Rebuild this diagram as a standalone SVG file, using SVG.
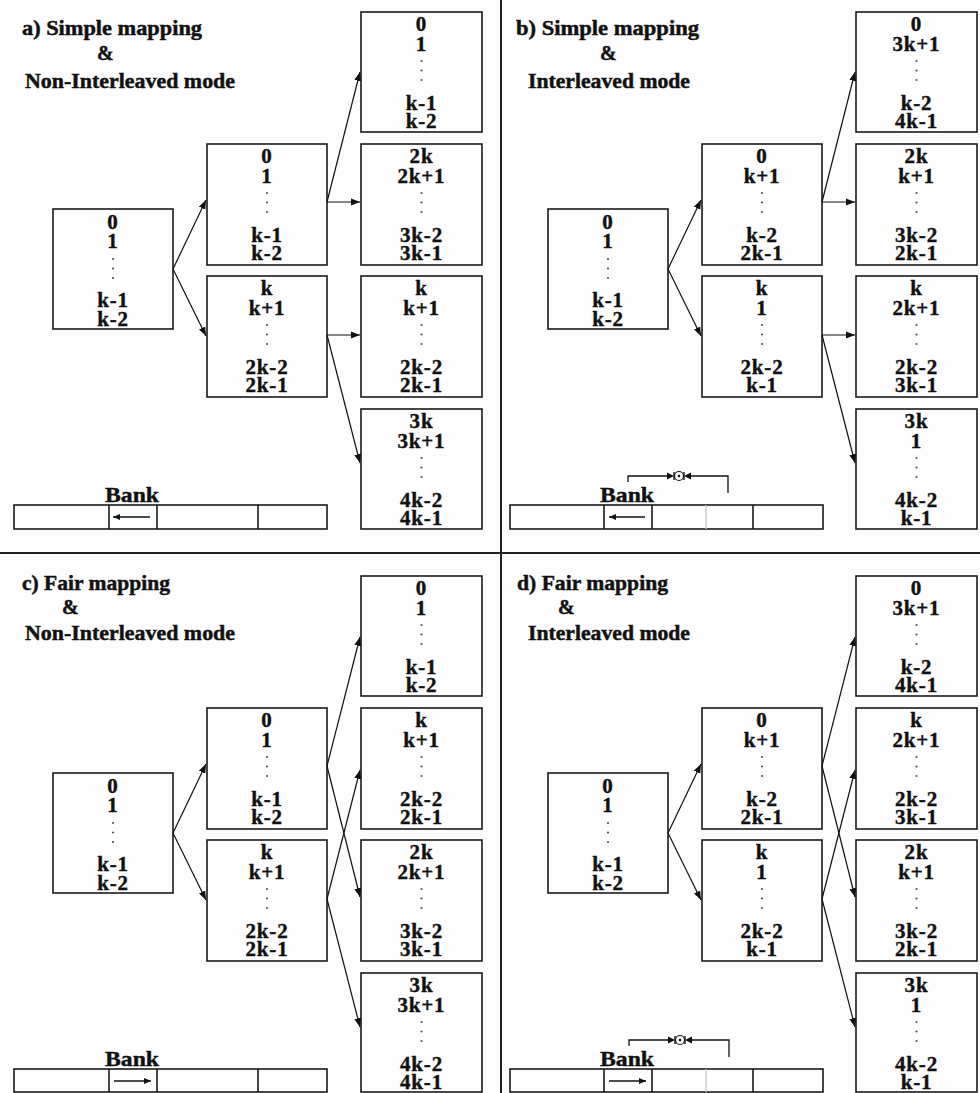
<svg xmlns="http://www.w3.org/2000/svg" xmlns:xlink="http://www.w3.org/1999/xlink" width="980" height="1093" viewBox="0 0 980 1093">
<defs>
<style>
.bg{fill:#fdfdfd}
.sep{stroke:#222;stroke-width:2;fill:none}
.box{fill:none;stroke:#1a1a1a;stroke-width:1.6}
.t{font-family:"Liberation Serif",serif;font-weight:bold;font-size:21px;text-anchor:middle;fill:#111;stroke:#111;stroke-width:0.4;letter-spacing:0.8px}
.ti{font-family:"Liberation Serif",serif;font-weight:bold;font-size:20px;fill:#111;stroke:#111;stroke-width:0.45}
.bank{font-family:"Liberation Serif",serif;font-weight:bold;font-size:21px;fill:#111;stroke:#111;stroke-width:0.4}
.cn{stroke:#111;stroke-width:1.2;fill:none;marker-end:url(#ah)}
.bar{fill:none;stroke:#1a1a1a;stroke-width:1.6}
.div{stroke:#1a1a1a;stroke-width:1.6}
.gdiv{stroke:#c8c8c8;stroke-width:1.4}
.ba{stroke:#111;stroke-width:1.3;fill:none;marker-end:url(#sah)}
.br{stroke:#111;stroke-width:1.3;fill:none}
.vd{fill:#555}
</style>
<marker id="ah" markerUnits="userSpaceOnUse" markerWidth="10" markerHeight="8" refX="9" refY="4" orient="auto">
<path d="M0,0.5 L9,4 L0,7.5 z" fill="#111"/>
</marker>
<marker id="sah" markerUnits="userSpaceOnUse" markerWidth="8" markerHeight="6" refX="7" refY="3" orient="auto">
<path d="M0,0 L7,3 L0,6 z" fill="#111"/>
</marker>
<g id="vdots">
<circle class="vd" cx="0" cy="0" r="1.1"/>
<circle class="vd" cx="0" cy="9.5" r="1.1"/>
<circle class="vd" cx="0" cy="19" r="1.1"/>
</g>
<g id="bracket">
<polyline class="br" points="0,6 0,0 39,0"/>
<path d="M39,-3.5 L46,0 L39,3.5 z" fill="#111"/>
<line class="br" x1="46" y1="-4" x2="46" y2="4"/>
<circle cx="51" cy="0" r="4.5" fill="#fdfdfd" stroke="#111" stroke-width="1.2"/>
<circle cx="51" cy="0" r="1.3" fill="#111"/>
<polyline class="br" points="100,17 100,0 63,0"/>
<path d="M63,-3.5 L56,0 L63,3.5 z" fill="#111"/>
<line class="br" x1="56" y1="-4" x2="56" y2="4"/>
</g>
</defs>
<rect class="bg" x="0" y="0" width="980" height="1093"/>
<g id="separators">
<line class="sep" x1="501" y1="0" x2="501" y2="1093"/>
<line class="sep" x1="0" y1="553" x2="980" y2="553"/>
</g>

<!-- Panel a -->
<g id="panel-a">
<g id="a-title">
<text class="ti" x="22" y="35" textLength="180" lengthAdjust="spacingAndGlyphs">a) Simple mapping</text>
<text class="ti" x="97" y="60">&amp;</text>
<text class="ti" x="25" y="88" textLength="210" lengthAdjust="spacingAndGlyphs">Non-Interleaved mode</text>
</g>
<g id="a-left">
<rect class="box" x="53" y="209" width="120" height="120"/>
<text class="t" x="113" y="229">0</text><text class="t" x="113" y="248">1</text>
<use xlink:href="#vdots" x="113" y="259"/>
<text class="t" x="113" y="307">k-1</text><text class="t" x="113" y="326">k-2</text>
</g>
<g id="a-mid1">
<rect class="box" x="207" y="144" width="120" height="121"/>
<text class="t" x="267" y="163">0</text><text class="t" x="267" y="183">1</text>
<use xlink:href="#vdots" x="267" y="193"/>
<text class="t" x="267" y="242">k-1</text><text class="t" x="267" y="260">k-2</text>
</g>
<g id="a-mid2">
<rect class="box" x="207" y="276" width="120" height="121"/>
<text class="t" x="267" y="295">k</text><text class="t" x="267" y="315">k+1</text>
<use xlink:href="#vdots" x="267" y="325"/>
<text class="t" x="267" y="374">2k-2</text><text class="t" x="267" y="392">2k-1</text>
</g>
<g id="a-r1">
<rect class="box" x="361" y="12" width="121" height="120"/>
<text class="t" x="421.5" y="31">0</text><text class="t" x="421.5" y="51">1</text>
<use xlink:href="#vdots" x="421.5" y="61"/>
<text class="t" x="421.5" y="110">k-1</text><text class="t" x="421.5" y="128">k-2</text>
</g>
<g id="a-r2">
<rect class="box" x="361" y="144" width="121" height="121"/>
<text class="t" x="421.5" y="163">2k</text><text class="t" x="421.5" y="183">2k+1</text>
<use xlink:href="#vdots" x="421.5" y="193"/>
<text class="t" x="421.5" y="242">3k-2</text><text class="t" x="421.5" y="260">3k-1</text>
</g>
<g id="a-r3">
<rect class="box" x="361" y="276" width="121" height="121"/>
<text class="t" x="421.5" y="295">k</text><text class="t" x="421.5" y="315">k+1</text>
<use xlink:href="#vdots" x="421.5" y="325"/>
<text class="t" x="421.5" y="374">2k-2</text><text class="t" x="421.5" y="392">2k-1</text>
</g>
<g id="a-r4">
<rect class="box" x="361" y="409" width="121" height="120"/>
<text class="t" x="421.5" y="428">3k</text><text class="t" x="421.5" y="448">3k+1</text>
<use xlink:href="#vdots" x="421.5" y="458"/>
<text class="t" x="421.5" y="507">4k-2</text><text class="t" x="421.5" y="525">4k-1</text>
</g>
<g id="a-bank">
<text class="bank" x="105" y="502" textLength="54" lengthAdjust="spacingAndGlyphs">Bank</text>
<rect class="bar" x="14" y="505" width="313" height="24"/>
<line class="div" x1="109" y1="505" x2="109" y2="529"/>
<line class="div" x1="157" y1="505" x2="157" y2="529"/>
<line class="div" x1="258" y1="505" x2="258" y2="529"/>
<line class="ba" x1="150" y1="517" x2="113" y2="517"/>
</g>
<g id="a-connectors">
<line class="cn" x1="173" y1="269" x2="206" y2="200"/>
<line class="cn" x1="173" y1="269" x2="206" y2="336"/>
<line class="cn" x1="327" y1="202" x2="360" y2="72"/>
<line class="cn" x1="327" y1="202" x2="360" y2="202"/>
<line class="cn" x1="327" y1="335" x2="360" y2="335"/>
<line class="cn" x1="327" y1="335" x2="360" y2="463"/>
</g>
</g>

<!-- Panel b -->
<g id="panel-b">
<g id="b-title">
<text class="ti" x="516" y="35" textLength="183" lengthAdjust="spacingAndGlyphs">b) Simple mapping</text>
<text class="ti" x="600" y="60">&amp;</text>
<text class="ti" x="528" y="88" textLength="162" lengthAdjust="spacingAndGlyphs">Interleaved mode</text>
</g>
<g id="b-left">
<rect class="box" x="548" y="209" width="120" height="120"/>
<text class="t" x="608" y="229">0</text><text class="t" x="608" y="248">1</text>
<use xlink:href="#vdots" x="608" y="259"/>
<text class="t" x="608" y="307">k-1</text><text class="t" x="608" y="326">k-2</text>
</g>
<g id="b-mid1">
<rect class="box" x="702" y="144" width="120" height="121"/>
<text class="t" x="762" y="163">0</text><text class="t" x="762" y="183">k+1</text>
<use xlink:href="#vdots" x="762" y="193"/>
<text class="t" x="762" y="242">k-2</text><text class="t" x="762" y="260">2k-1</text>
</g>
<g id="b-mid2">
<rect class="box" x="702" y="276" width="120" height="121"/>
<text class="t" x="762" y="295">k</text><text class="t" x="762" y="315">1</text>
<use xlink:href="#vdots" x="762" y="325"/>
<text class="t" x="762" y="374">2k-2</text><text class="t" x="762" y="392">k-1</text>
</g>
<g id="b-r1">
<rect class="box" x="856" y="12" width="121" height="120"/>
<text class="t" x="916.5" y="31">0</text><text class="t" x="916.5" y="51">3k+1</text>
<use xlink:href="#vdots" x="916.5" y="61"/>
<text class="t" x="916.5" y="110">k-2</text><text class="t" x="916.5" y="128">4k-1</text>
</g>
<g id="b-r2">
<rect class="box" x="856" y="144" width="121" height="121"/>
<text class="t" x="916.5" y="163">2k</text><text class="t" x="916.5" y="183">k+1</text>
<use xlink:href="#vdots" x="916.5" y="193"/>
<text class="t" x="916.5" y="242">3k-2</text><text class="t" x="916.5" y="260">2k-1</text>
</g>
<g id="b-r3">
<rect class="box" x="856" y="276" width="121" height="121"/>
<text class="t" x="916.5" y="295">k</text><text class="t" x="916.5" y="315">2k+1</text>
<use xlink:href="#vdots" x="916.5" y="325"/>
<text class="t" x="916.5" y="374">2k-2</text><text class="t" x="916.5" y="392">3k-1</text>
</g>
<g id="b-r4">
<rect class="box" x="856" y="409" width="121" height="120"/>
<text class="t" x="916.5" y="428">3k</text><text class="t" x="916.5" y="448">1</text>
<use xlink:href="#vdots" x="916.5" y="458"/>
<text class="t" x="916.5" y="507">4k-2</text><text class="t" x="916.5" y="525">k-1</text>
</g>
<g id="b-bank">
<use xlink:href="#bracket" x="628" y="476"/>
<text class="bank" x="600" y="502" textLength="54" lengthAdjust="spacingAndGlyphs">Bank</text>
<rect class="bar" x="510" y="505" width="313" height="24"/>
<line class="div" x1="604" y1="505" x2="604" y2="529"/>
<line class="div" x1="652" y1="505" x2="652" y2="529"/>
<line class="gdiv" x1="706" y1="505" x2="706" y2="529"/>
<line class="div" x1="753" y1="505" x2="753" y2="529"/>
<line class="ba" x1="645" y1="517" x2="609" y2="517"/>
</g>
<g id="b-connectors">
<line class="cn" x1="668" y1="269" x2="701" y2="200"/>
<line class="cn" x1="668" y1="269" x2="701" y2="336"/>
<line class="cn" x1="822" y1="202" x2="855" y2="72"/>
<line class="cn" x1="822" y1="202" x2="855" y2="202"/>
<line class="cn" x1="822" y1="335" x2="855" y2="335"/>
<line class="cn" x1="822" y1="335" x2="855" y2="463"/>
</g>
</g>

<!-- Panel c -->
<g id="panel-c">
<g id="c-title">
<text class="ti" x="22" y="590" textLength="148" lengthAdjust="spacingAndGlyphs">c) Fair mapping</text>
<text class="ti" x="62" y="614">&amp;</text>
<text class="ti" x="25" y="640" textLength="210" lengthAdjust="spacingAndGlyphs">Non-Interleaved mode</text>
</g>
<g id="c-left">
<rect class="box" x="53" y="773" width="120" height="120"/>
<text class="t" x="113" y="793">0</text><text class="t" x="113" y="812">1</text>
<use xlink:href="#vdots" x="113" y="823"/>
<text class="t" x="113" y="871">k-1</text><text class="t" x="113" y="890">k-2</text>
</g>
<g id="c-mid1">
<rect class="box" x="207" y="708" width="120" height="121"/>
<text class="t" x="267" y="727">0</text><text class="t" x="267" y="747">1</text>
<use xlink:href="#vdots" x="267" y="757"/>
<text class="t" x="267" y="806">k-1</text><text class="t" x="267" y="824">k-2</text>
</g>
<g id="c-mid2">
<rect class="box" x="207" y="840" width="120" height="121"/>
<text class="t" x="267" y="859">k</text><text class="t" x="267" y="879">k+1</text>
<use xlink:href="#vdots" x="267" y="889"/>
<text class="t" x="267" y="938">2k-2</text><text class="t" x="267" y="956">2k-1</text>
</g>
<g id="c-r1">
<rect class="box" x="361" y="576" width="121" height="120"/>
<text class="t" x="421.5" y="595">0</text><text class="t" x="421.5" y="615">1</text>
<use xlink:href="#vdots" x="421.5" y="625"/>
<text class="t" x="421.5" y="674">k-1</text><text class="t" x="421.5" y="692">k-2</text>
</g>
<g id="c-r2">
<rect class="box" x="361" y="708" width="121" height="121"/>
<text class="t" x="421.5" y="727">k</text><text class="t" x="421.5" y="747">k+1</text>
<use xlink:href="#vdots" x="421.5" y="757"/>
<text class="t" x="421.5" y="806">2k-2</text><text class="t" x="421.5" y="824">2k-1</text>
</g>
<g id="c-r3">
<rect class="box" x="361" y="840" width="121" height="121"/>
<text class="t" x="421.5" y="859">2k</text><text class="t" x="421.5" y="879">2k+1</text>
<use xlink:href="#vdots" x="421.5" y="889"/>
<text class="t" x="421.5" y="938">3k-2</text><text class="t" x="421.5" y="956">3k-1</text>
</g>
<g id="c-r4">
<rect class="box" x="361" y="973" width="121" height="119"/>
<text class="t" x="421.5" y="992">3k</text><text class="t" x="421.5" y="1012">3k+1</text>
<use xlink:href="#vdots" x="421.5" y="1022"/>
<text class="t" x="421.5" y="1071">4k-2</text><text class="t" x="421.5" y="1089">4k-1</text>
</g>
<g id="c-bank">
<text class="bank" x="105" y="1066" textLength="54" lengthAdjust="spacingAndGlyphs">Bank</text>
<rect class="bar" x="14" y="1069" width="313" height="23"/>
<line class="div" x1="109" y1="1069" x2="109" y2="1092"/>
<line class="div" x1="157" y1="1069" x2="157" y2="1092"/>
<line class="div" x1="258" y1="1069" x2="258" y2="1092"/>
<line class="ba" x1="114" y1="1081" x2="151" y2="1081"/>
</g>
<g id="c-connectors">
<line class="cn" x1="173" y1="833" x2="206" y2="764"/>
<line class="cn" x1="173" y1="833" x2="206" y2="900"/>
<line class="cn" x1="327" y1="766" x2="360" y2="637"/>
<line class="cn" x1="327" y1="766" x2="360" y2="897"/>
<line class="cn" x1="327" y1="899" x2="360" y2="770"/>
<line class="cn" x1="327" y1="899" x2="360" y2="1027"/>
</g>
</g>

<!-- Panel d -->
<g id="panel-d">
<g id="d-title">
<text class="ti" x="517" y="590" textLength="151" lengthAdjust="spacingAndGlyphs">d) Fair mapping</text>
<text class="ti" x="558" y="614">&amp;</text>
<text class="ti" x="528" y="640" textLength="162" lengthAdjust="spacingAndGlyphs">Interleaved mode</text>
</g>
<g id="d-left">
<rect class="box" x="548" y="773" width="120" height="120"/>
<text class="t" x="608" y="793">0</text><text class="t" x="608" y="812">1</text>
<use xlink:href="#vdots" x="608" y="823"/>
<text class="t" x="608" y="871">k-1</text><text class="t" x="608" y="890">k-2</text>
</g>
<g id="d-mid1">
<rect class="box" x="702" y="708" width="120" height="121"/>
<text class="t" x="762" y="727">0</text><text class="t" x="762" y="747">k+1</text>
<use xlink:href="#vdots" x="762" y="757"/>
<text class="t" x="762" y="806">k-2</text><text class="t" x="762" y="824">2k-1</text>
</g>
<g id="d-mid2">
<rect class="box" x="702" y="840" width="120" height="121"/>
<text class="t" x="762" y="859">k</text><text class="t" x="762" y="879">1</text>
<use xlink:href="#vdots" x="762" y="889"/>
<text class="t" x="762" y="938">2k-2</text><text class="t" x="762" y="956">k-1</text>
</g>
<g id="d-r1">
<rect class="box" x="856" y="576" width="121" height="120"/>
<text class="t" x="916.5" y="595">0</text><text class="t" x="916.5" y="615">3k+1</text>
<use xlink:href="#vdots" x="916.5" y="625"/>
<text class="t" x="916.5" y="674">k-2</text><text class="t" x="916.5" y="692">4k-1</text>
</g>
<g id="d-r2">
<rect class="box" x="856" y="708" width="121" height="121"/>
<text class="t" x="916.5" y="727">k</text><text class="t" x="916.5" y="747">2k+1</text>
<use xlink:href="#vdots" x="916.5" y="757"/>
<text class="t" x="916.5" y="806">2k-2</text><text class="t" x="916.5" y="824">3k-1</text>
</g>
<g id="d-r3">
<rect class="box" x="856" y="840" width="121" height="121"/>
<text class="t" x="916.5" y="859">2k</text><text class="t" x="916.5" y="879">k+1</text>
<use xlink:href="#vdots" x="916.5" y="889"/>
<text class="t" x="916.5" y="938">3k-2</text><text class="t" x="916.5" y="956">2k-1</text>
</g>
<g id="d-r4">
<rect class="box" x="856" y="973" width="121" height="119"/>
<text class="t" x="916.5" y="992">3k</text><text class="t" x="916.5" y="1012">1</text>
<use xlink:href="#vdots" x="916.5" y="1022"/>
<text class="t" x="916.5" y="1071">4k-2</text><text class="t" x="916.5" y="1089">k-1</text>
</g>
<g id="d-bank">
<use xlink:href="#bracket" x="629" y="1040"/>
<text class="bank" x="600" y="1066" textLength="54" lengthAdjust="spacingAndGlyphs">Bank</text>
<rect class="bar" x="510" y="1069" width="313" height="23"/>
<line class="div" x1="604" y1="1069" x2="604" y2="1092"/>
<line class="div" x1="652" y1="1069" x2="652" y2="1092"/>
<line class="gdiv" x1="706" y1="1069" x2="706" y2="1092"/>
<line class="div" x1="753" y1="1069" x2="753" y2="1092"/>
<line class="ba" x1="609" y1="1081" x2="646" y2="1081"/>
</g>
<g id="d-connectors">
<line class="cn" x1="668" y1="833" x2="701" y2="764"/>
<line class="cn" x1="668" y1="833" x2="701" y2="900"/>
<line class="cn" x1="822" y1="766" x2="855" y2="637"/>
<line class="cn" x1="822" y1="766" x2="855" y2="897"/>
<line class="cn" x1="822" y1="899" x2="855" y2="770"/>
<line class="cn" x1="822" y1="899" x2="855" y2="1027"/>
</g>
</g>
</svg>
